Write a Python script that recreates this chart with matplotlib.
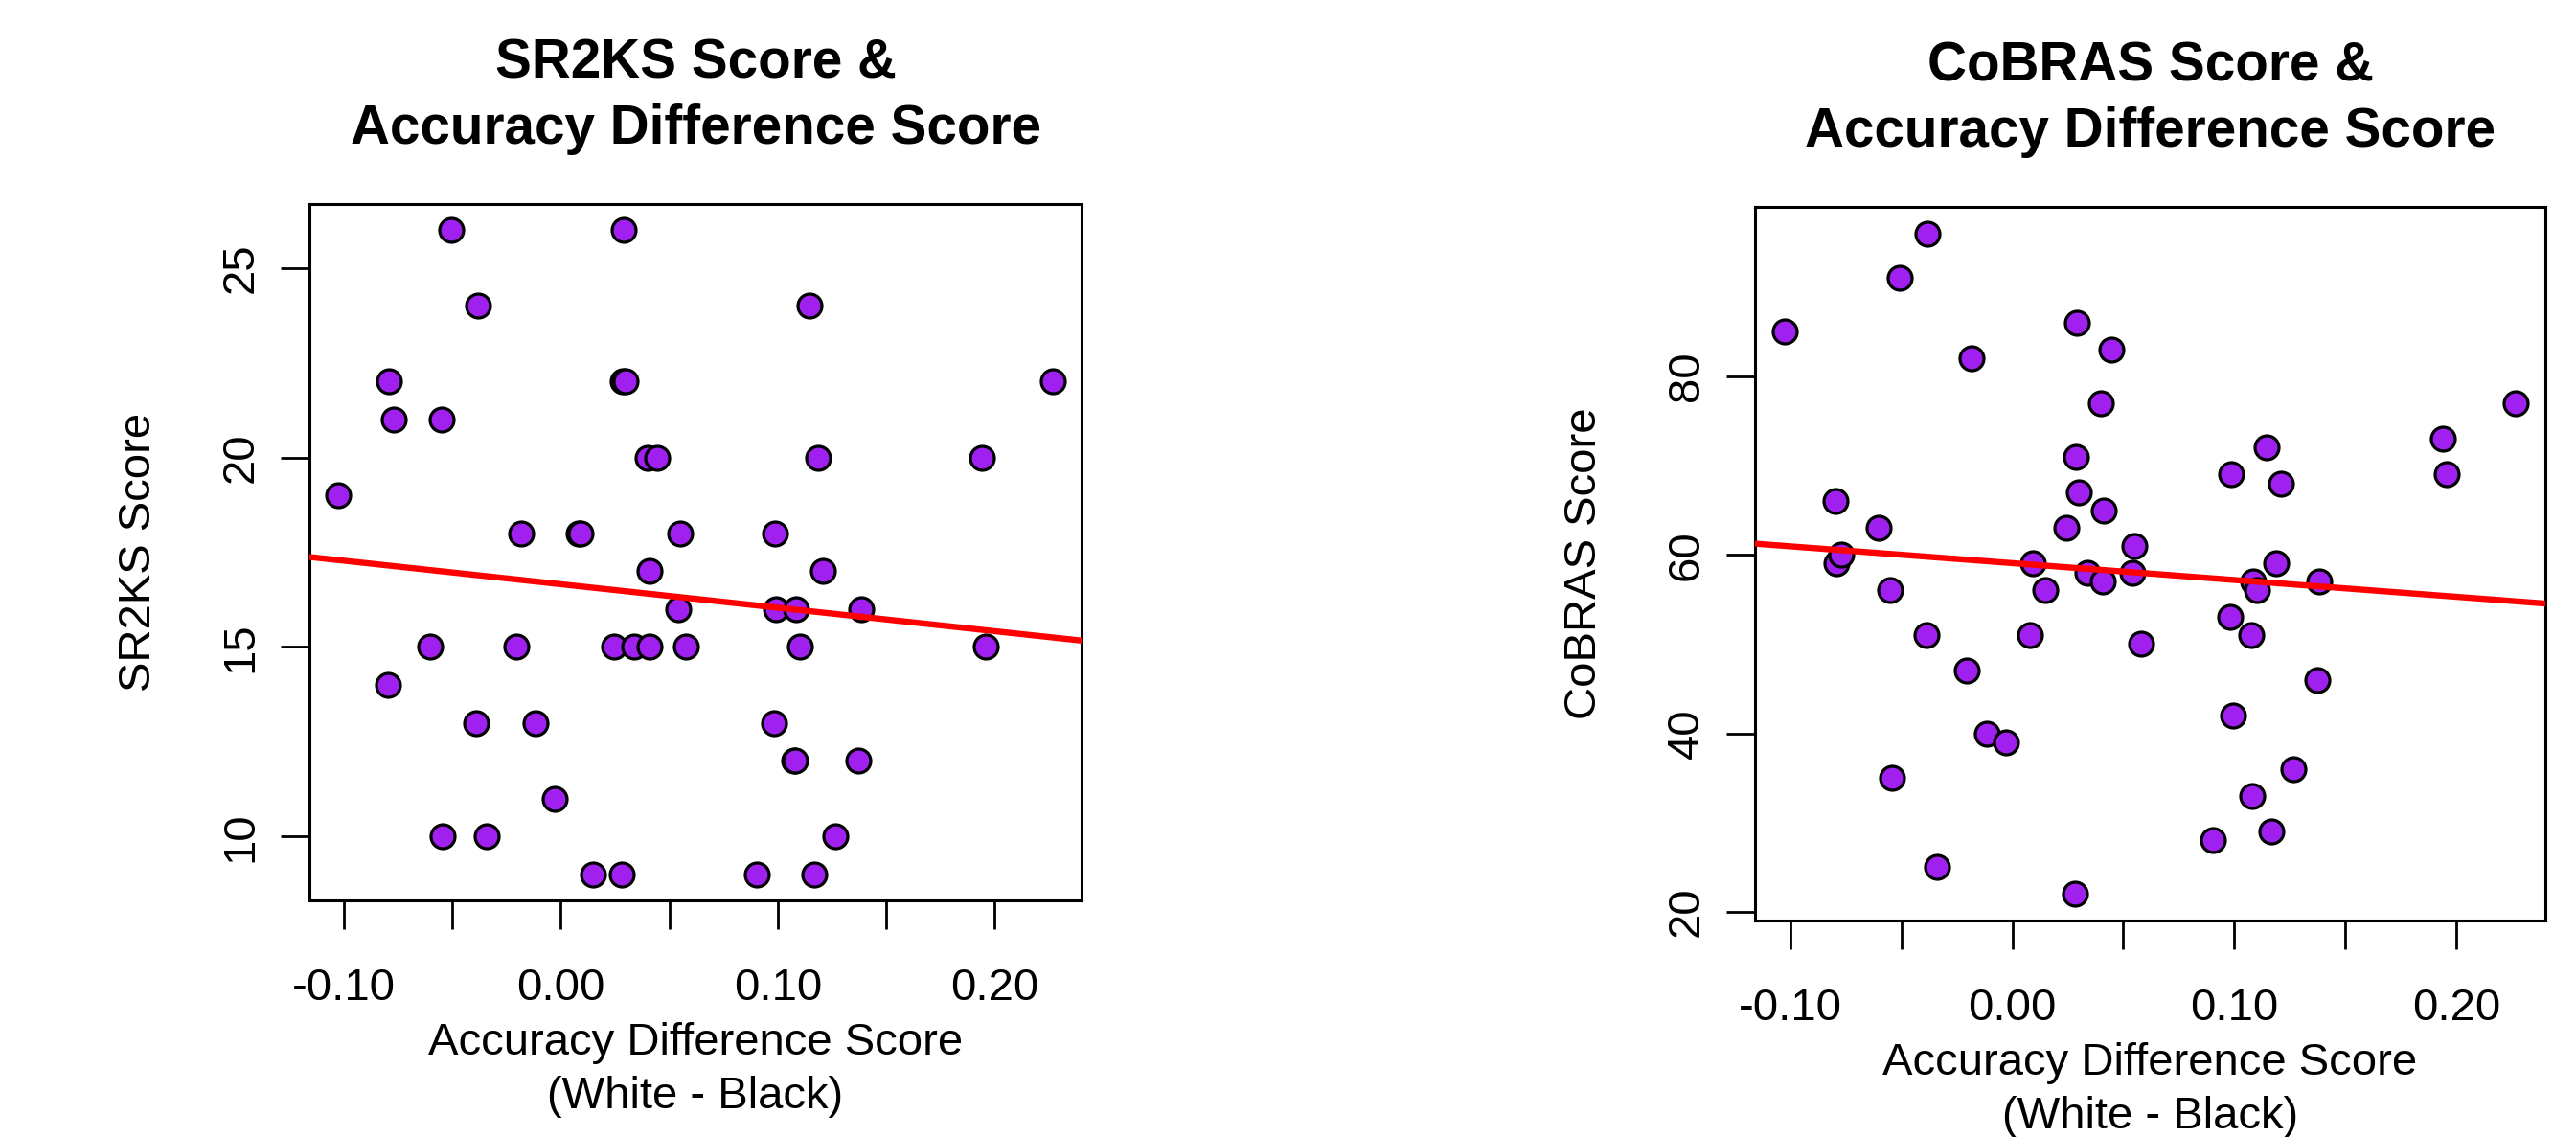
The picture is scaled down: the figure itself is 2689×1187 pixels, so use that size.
import numpy as np
import matplotlib
matplotlib.use("Agg")
import matplotlib.pyplot as plt

plt.rcParams['font.family'] = ['Liberation Sans', 'DejaVu Sans']

# accuracy difference score (White - Black), one value per participant
acc_diff = [-0.1026, -0.0797, -0.0792, -0.0768, -0.0603, -0.0550, -0.0543, -0.0505,
            -0.0380, -0.0388, -0.0340, -0.0206, -0.0182, -0.0115, -0.0029, 0.0081,
            0.0093, 0.0148, 0.0244, 0.0282, 0.0287, 0.0300, 0.0292, 0.0340,
            0.0407, 0.0411, 0.0400, 0.0445, 0.0543, 0.0550, 0.0579, 0.0902,
            0.0981, 0.0986, 0.0993, 0.1074, 0.1080, 0.1084, 0.1100, 0.1146,
            0.1167, 0.1187, 0.1208, 0.1266, 0.1373, 0.1383, 0.1940, 0.1957,
            0.2268]
sr2ks = [19, 14, 22, 21, 15, 21, 10, 26, 24, 13, 10, 15, 18, 13, 11, 18,
         18, 9, 15, 9, 22, 22, 26, 15, 15, 17, 20, 20, 16, 18, 15, 9,
         13, 18, 16, 12, 12, 16, 15, 24, 9, 20, 17, 10, 12, 16, 20, 15,
         22]
cobras = [85, 66, 59, 60, 63, 56, 35, 91, 96, 51, 25, 47, 82, 40, 39, 51,
          59, 56, 63, 22, 71, 67, 86, 58, 57, 65, 77, 83, 58, 61, 50, 28,
          53, 69, 42, 51, 33, 57, 56, 72, 29, 59, 68, 36, 46, 57, 73, 69,
          77]

x_ticks = [-0.10, -0.05, 0.00, 0.05, 0.10, 0.15, 0.20]
x_ticklabels = ['-0.10', '', '0.00', '', '0.10', '', '0.20']

panels = [
    (sr2ks, "SR2KS Score &\nAccuracy Difference Score", "SR2KS Score", [10, 15, 20, 25],
     [0.12012, 0.20809, 0.29974, 0.61247]),
    (cobras, "CoBRAS Score &\nAccuracy Difference Score", "CoBRAS Score", [20, 40, 60, 80],
     [0.68130, 0.19040, 0.30681, 0.62763]),
]

fig = plt.figure(figsize=(26.89, 11.87), dpi=100)

x = np.array(acc_diff)
for y, title, ylab, yticks, pos in panels:
    y = np.array(y, dtype=float)
    ax = fig.add_axes(pos)
    ax.plot(x, y, 'o', ms=18, mfc='#A020F0', mec='black', mew=2.3, zorder=3)
    ax.margins(x=0.04, y=0.04)

    # linear fit, like abline(lm(y ~ x))
    slope, intercept = np.polyfit(x, y, 1)
    ax.axline((0, intercept), slope=slope, color='red', lw=4.6, zorder=4)

    ax.set_xticks(x_ticks)
    ax.set_xticklabels(x_ticklabels)
    ax.set_yticks(yticks)
    ax.set_yticklabels([str(t) for t in yticks], rotation=90, va='center')

    ax.tick_params(axis='both', length=21.6, width=2.0, labelsize=34)
    ax.tick_params(axis='x', pad=29)
    ax.tick_params(axis='y', pad=14)
    for sp in ax.spines.values():
        sp.set_linewidth(2.2)

    ax.set_title(title, fontsize=40.8, fontweight='bold', pad=45, linespacing=1.35)
    ax.set_xlabel("Accuracy Difference Score\n(White - Black)", fontsize=34,
                  labelpad=9.4, linespacing=1.35)
    ax.set_ylabel(ylab, fontsize=34, labelpad=45)

fig.savefig("out.png", dpi=100)
